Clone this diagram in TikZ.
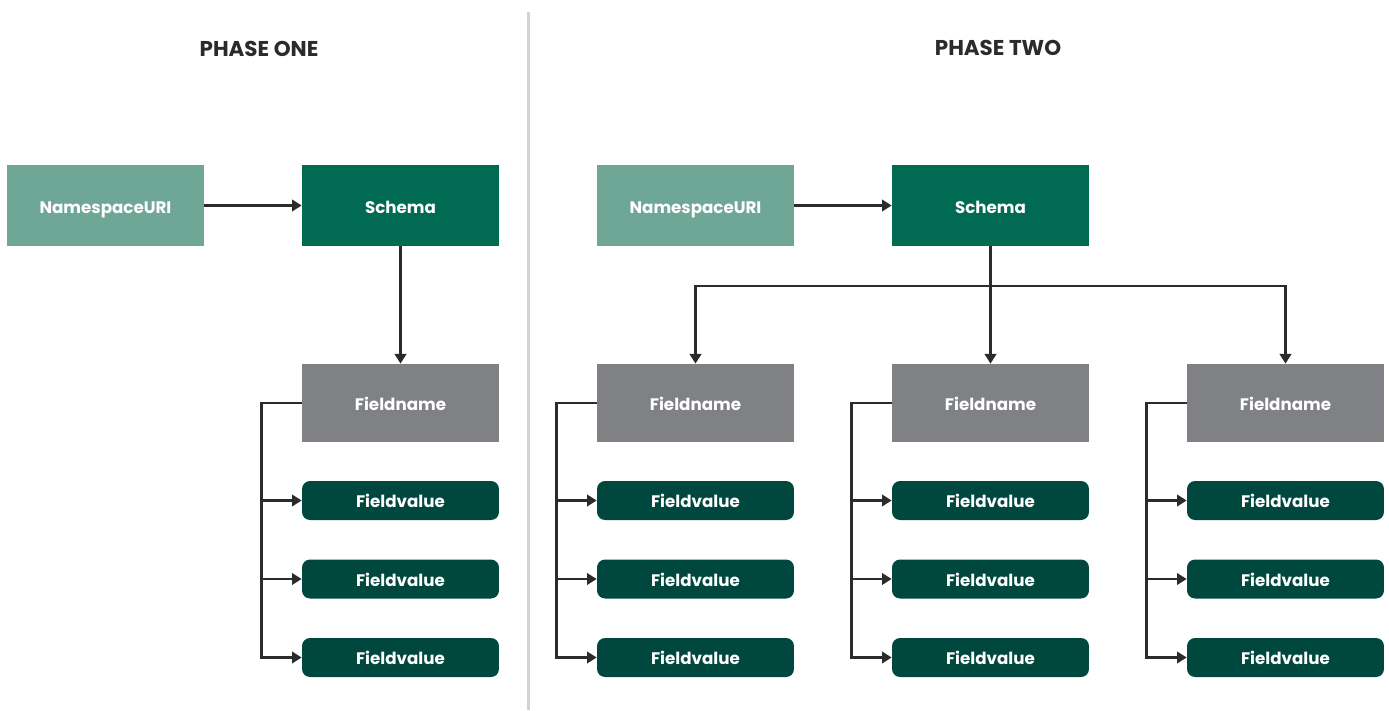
\documentclass[tikz,border=0pt]{standalone}
\usepackage{fontspec}
\setmainfont{Poppins}
\usetikzlibrary{arrows.meta}

\definecolor{nsgreen}{HTML}{6FA797}
\definecolor{schemagreen}{HTML}{006A53}
\definecolor{namegray}{HTML}{808184}
\definecolor{valuegreen}{HTML}{00473E}
\definecolor{linedark}{HTML}{2B2B2B}
\definecolor{divgray}{HTML}{D2D2D2}

\tikzset{
    box/.style={minimum width=3.94cm, inner sep=0pt, text=white,
        text height=8.2pt, text depth=0pt,
        font={\bfseries\fontsize{9.5}{11}\selectfont}},
    nsbox/.style={box, fill=nsgreen, minimum height=1.62cm, text height=9pt},
    schemabox/.style={box, fill=schemagreen, minimum height=1.62cm, text height=9pt},
    namebox/.style={box, fill=namegray, minimum height=1.56cm},
    valuebox/.style={box, fill=valuegreen, minimum height=0.78cm, rounded corners=0.16cm},
    title/.style={text=linedark, font={\bfseries\fontsize{12.2}{14}\selectfont}},
    arr/.style={draw=linedark, line width=1.4pt, -{Triangle[length=5.5pt,width=6.5pt]}},
    link/.style={draw=linedark, line width=1.4pt}
}

\begin{document}
\begin{tikzpicture}[x=0.02cm, y=-0.02cm]
    \useasboundingbox (0,0) rectangle (1389,710);

    % divider between the phases
    \draw[divgray, line width=1.7pt] (528,12) -- (528,710);

    \node[title] (titleone) at (259,48.5) {PHASE ONE};
    \node[title] (titletwo) at (998,47.5) {PHASE TWO};

    % phase one
    \node[nsbox] (nsone) at (105.5,205.5) {NamespaceURI};
    \node[schemabox] (schemaone) at (400.5,205.5) {Schema};
    \draw[arr] (nsone.east) -- (schemaone.west);

    % phase two
    \node[nsbox] (nstwo) at (695.5,205.5) {NamespaceURI};
    \node[schemabox] (schematwo) at (990.5,205.5) {Schema};
    \draw[arr] (nstwo.east) -- (schematwo.west);

    % field columns
    \foreach \col/\cx in {a/400.5, b/695.5, c/990.5, d/1285.5} {
        \node[namebox] (name\col) at (\cx,403) {Fieldname};
        \node[valuebox] (val\col1) at (\cx,500.5) {Fieldvalue};
        \node[valuebox] (val\col2) at (\cx,579) {Fieldvalue};
        \node[valuebox] (val\col3) at (\cx,657.5) {Fieldvalue};
        \draw[arr] (name\col.west) -- ++(-40,0) |- (val\col1.west);
        \draw[arr] (name\col.west) -- ++(-40,0) |- (val\col2.west);
        \draw[arr] (name\col.west) -- ++(-40,0) |- (val\col3.west);
    }

    \draw[arr] (schemaone.south) -- (namea.north);
    \coordinate (bus) at (990.5,286);
    \draw[arr] (schematwo.south) -- (namec.north);
    \draw[arr] (bus) -| (nameb.north);
    \draw[arr] (bus) -| (named.north);
\end{tikzpicture}
\end{document}
